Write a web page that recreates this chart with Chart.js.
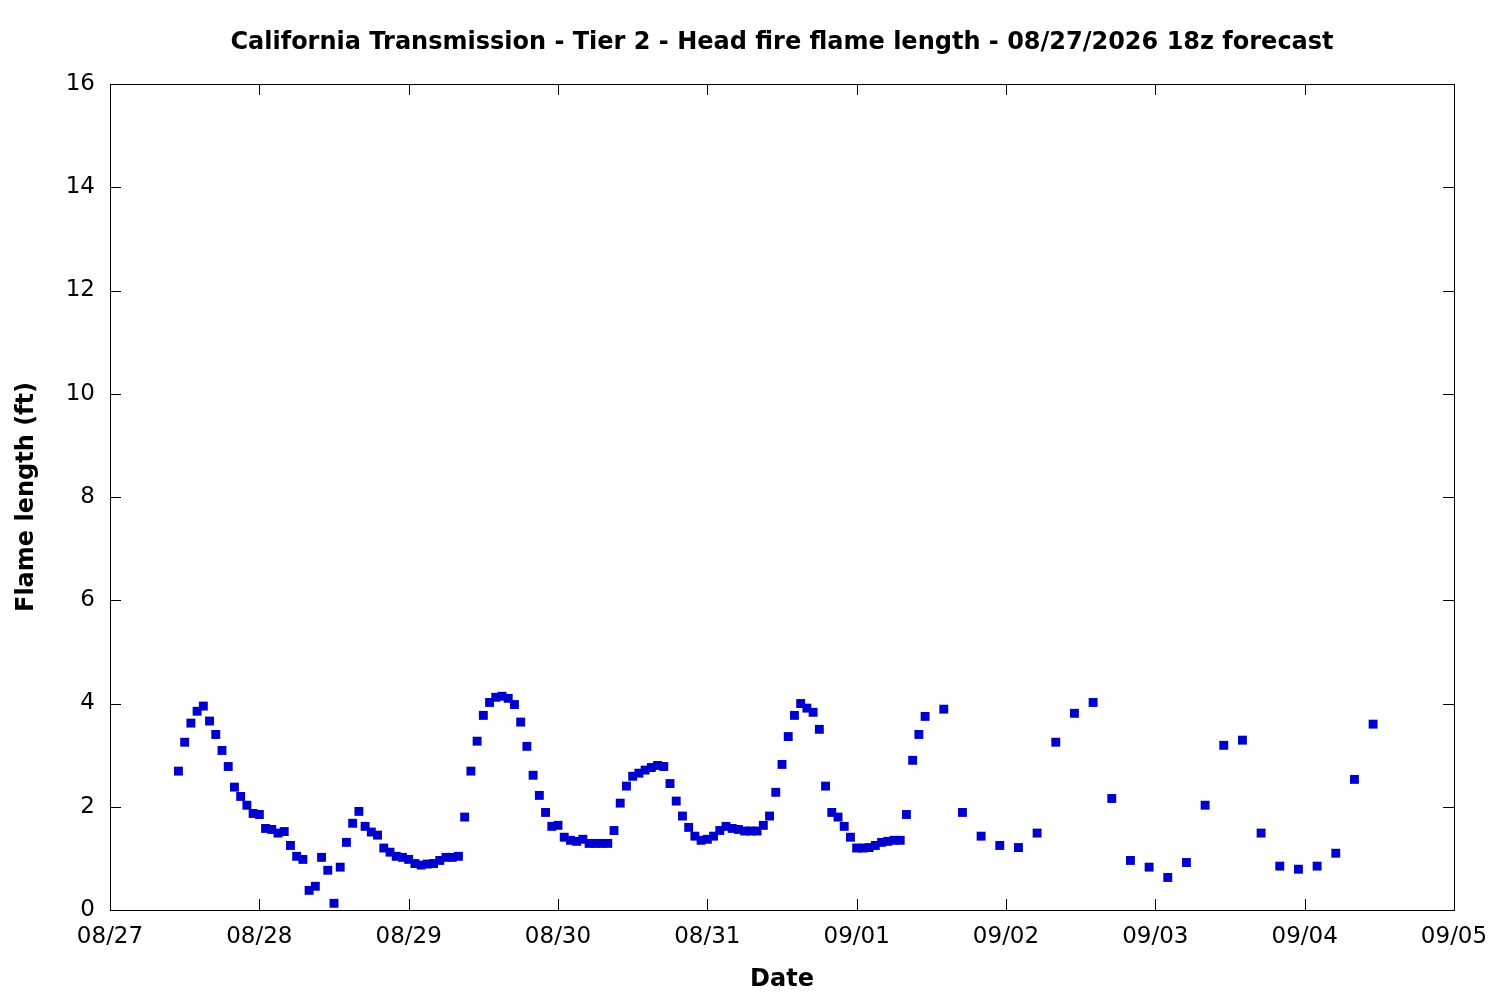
<!DOCTYPE html>
<html>
<head>
<meta charset="utf-8">
<title>Head fire flame length</title>
<script src="https://cdn.jsdelivr.net/npm/chart.js@4.4.1/dist/chart.umd.min.js"></script>
<style>
  html, body { margin: 0; padding: 0; background: #fff; }
</style>
</head>
<body>
<canvas id="flameChart" width="1500" height="1000"></canvas>
<script>
// x tick labels, one per day starting 08/27 00h (local)
const dateLabels = ['08/27', '08/28', '08/29', '08/30', '08/31', '09/01', '09/02', '09/03', '09/04', '09/05'];

// forecast valid times, hours since 08/27 00h
const forecastHours = [
  11, 12, 13, 14, 15, 16, 17, 18, 19, 20, 21, 22, 23,
  24, 25, 26, 27, 28, 29, 30, 31, 32, 33, 34, 35, 36, 37, 38, 39, 40, 41, 42, 43, 44, 45, 46, 47,
  48, 49, 50, 51, 52, 53, 54, 55, 56, 57, 58, 59, 60, 61, 62, 63, 64, 65, 66, 67, 68, 69, 70, 71,
  72, 73, 74, 75, 76, 77, 78, 79, 80, 81, 82, 83, 84, 85, 86, 87, 88, 89, 90, 91, 92, 93, 94, 95,
  96, 97, 98, 99, 100, 101, 102, 103, 104, 105, 106, 107, 108, 109, 110, 111, 112, 113, 114, 115, 116, 117, 118, 119,
  120, 121, 122, 123, 124, 125, 126, 127, 128, 129, 130, 131,
  134, 137, 140, 143, 146, 149, 152, 155, 158, 161, 164, 167, 170, 173, 176, 179, 182, 185, 188, 191, 194, 197, 200, 203
];

// head fire flame length (ft)
const flameLength = [
  2.69, 3.25, 3.62, 3.85, 3.95, 3.66, 3.40, 3.09, 2.78, 2.38, 2.20, 2.03, 1.87,
  1.85, 1.58, 1.56, 1.49, 1.52, 1.25, 1.04, 0.98, 0.38, 0.46, 1.02, 0.77, 0.13, 0.83, 1.31, 1.68, 1.91, 1.62, 1.51, 1.45, 1.20, 1.12, 1.04, 1.02,
  0.98, 0.90, 0.87, 0.89, 0.90, 0.96, 1.02, 1.02, 1.04, 1.80, 2.69, 3.27, 3.77, 4.02, 4.12, 4.14, 4.10, 3.98, 3.64, 3.17, 2.61, 2.22, 1.89, 1.62,
  1.64, 1.41, 1.35, 1.33, 1.37, 1.29, 1.29, 1.29, 1.29, 1.54, 2.07, 2.40, 2.59, 2.65, 2.71, 2.76, 2.80, 2.78, 2.45, 2.11, 1.82, 1.60, 1.43, 1.35,
  1.37, 1.43, 1.54, 1.62, 1.58, 1.56, 1.53, 1.53, 1.53, 1.64, 1.82, 2.28, 2.82, 3.36, 3.77, 4.00, 3.91, 3.83, 3.50, 2.40, 1.89, 1.80, 1.62, 1.41,
  1.20, 1.20, 1.21, 1.25, 1.31, 1.33, 1.35, 1.35, 1.85, 2.90, 3.40, 3.75,
  3.89, 1.89, 1.43, 1.25, 1.21, 1.49, 3.25, 3.81, 4.02, 2.16, 0.96, 0.83, 0.63, 0.92, 2.03, 3.19, 3.29, 1.49, 0.85, 0.79, 0.85, 1.10, 2.53, 3.60
];

const yTickValues = [0, 2, 4, 6, 8, 10, 12, 14, 16];

const FONT = '"DejaVu Sans", sans-serif';

// gnuplot style frame with inward ticks on all four sides
const frameTicks = {
  id: 'frameTicks',
  afterDatasetsDraw(chart) {
    const { ctx, chartArea: a, scales: { x, y } } = chart;
    const len = 11;
    ctx.save();
    ctx.strokeStyle = '#000';
    ctx.lineWidth = 1;
    ctx.beginPath();
    x.ticks.forEach(t => {
      const px = Math.round(x.getPixelForValue(t.value)) + 0.5;
      ctx.moveTo(px, a.bottom); ctx.lineTo(px, a.bottom - len);
      ctx.moveTo(px, a.top); ctx.lineTo(px, a.top + len);
    });
    y.ticks.forEach(t => {
      const py = Math.round(y.getPixelForValue(t.value)) + 0.5;
      ctx.moveTo(a.left, py); ctx.lineTo(a.left + len, py);
      ctx.moveTo(a.right, py); ctx.lineTo(a.right - len, py);
    });
    ctx.stroke();
    ctx.strokeRect(Math.round(a.left) + 0.5, Math.round(a.top) + 0.5,
      Math.round(a.right - a.left), Math.round(a.bottom - a.top));
    ctx.restore();
  }
};

const ctx = document.getElementById('flameChart').getContext('2d');
const flameChart = new Chart(ctx, {
  type: 'scatter',
  data: {
    datasets: [{
      label: 'Flame length',
      data: forecastHours.map((h, i) => ({ x: h, y: flameLength[i] })),
      pointStyle: 'rect',
      pointRadius: 6.3,
      pointHoverRadius: 6.3,
      pointBorderWidth: 0,
      backgroundColor: '#0000cc',
      borderColor: '#0000cc'
    }]
  },
  options: {
    responsive: false,
    devicePixelRatio: 1,
    animation: false,
    layout: { padding: { top: 0, right: 46, bottom: 0, left: 0 } },
    plugins: {
      legend: { display: false },
      tooltip: { enabled: false },
      title: {
        display: true,
        fullSize: false,
        text: 'California Transmission - Tier 2 - Head fire flame length - 08/27/2026 18z forecast',
        color: '#000',
        font: { family: FONT, size: 24, weight: 'bold' },
        padding: { top: 28, bottom: 27.2 }
      }
    },
    scales: {
      x: {
        type: 'linear',
        min: 0,
        max: 216,
        afterFit(scale) {
          scale.height = 90;
          scale.paddingLeft = 0;
          scale.paddingRight = 0;
        },
        afterBuildTicks(scale) {
          scale.ticks = dateLabels.map((d, i) => ({ value: i * 24 }));
        },
        grid: { display: false, drawTicks: false },
        border: { display: false },
        ticks: {
          color: '#000',
          font: { family: FONT, size: 23 },
          padding: 13,
          maxRotation: 0,
          autoSkip: false,
          callback: (v) => dateLabels[Math.round(v / 24)]
        },
        title: {
          display: true,
          text: 'Date',
          color: '#000',
          font: { family: FONT, size: 24, weight: 'bold' },
          padding: { top: 0, bottom: 5.5 }
        }
      },
      y: {
        min: 0,
        max: 16,
        afterFit(scale) {
          scale.width = 110;
          scale.paddingTop = 0;
          scale.paddingBottom = 0;
        },
        afterBuildTicks(scale) {
          scale.ticks = yTickValues.map(v => ({ value: v }));
        },
        grid: { display: false, drawTicks: false },
        border: { display: false },
        ticks: {
          color: '#000',
          font: { family: FONT, size: 23 },
          padding: 15
        },
        title: {
          display: true,
          text: 'Flame length (ft)',
          color: '#000',
          font: { family: FONT, size: 24, weight: 'bold' },
          padding: { top: 12.6, bottom: 0 }
        }
      }
    }
  },
  plugins: [frameTicks]
});
</script>
</body>
</html>
